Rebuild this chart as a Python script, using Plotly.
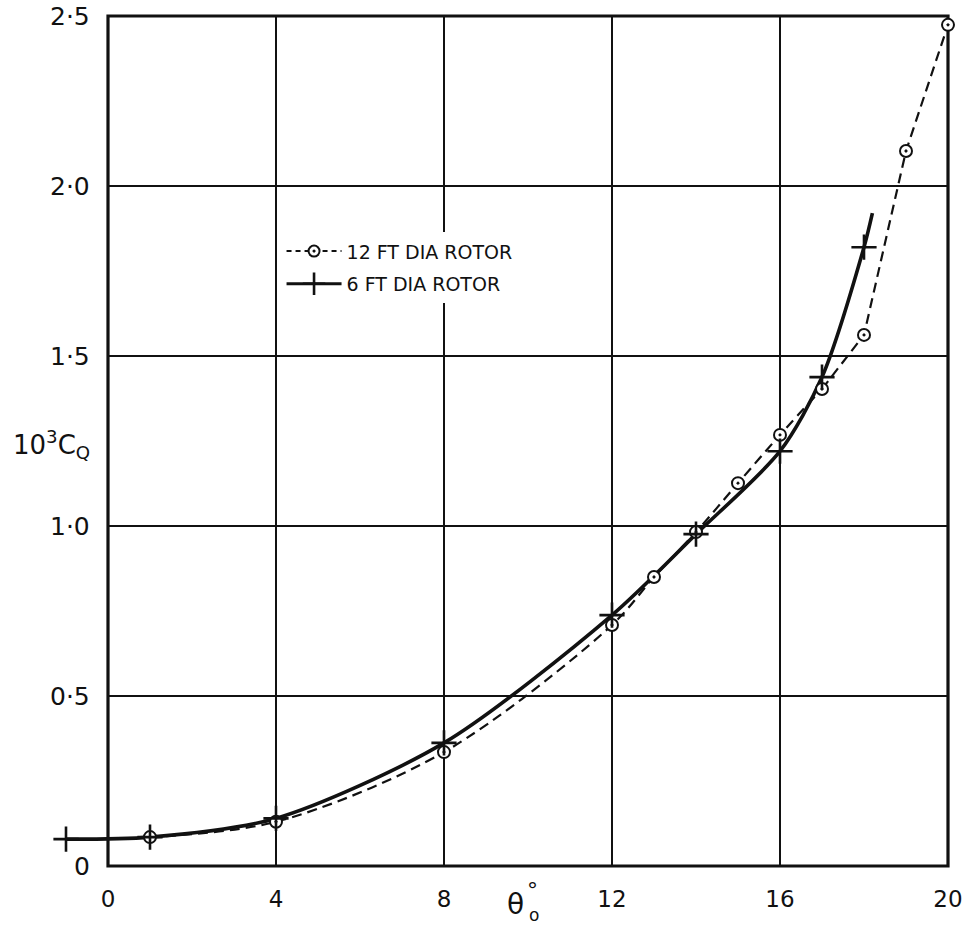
import plotly.graph_objects as go

# ---- data ----
x_ticks = [0, 4, 8, 12, 16, 20]
x_tick_text = ["0", "4", "8", "12", "16", "20"]
y_ticks = [0, 0.5, 1.0, 1.5, 2.0, 2.5]
y_tick_text = ["0", "0·5", "1·0", "1·5", "2·0", "2·5"]

theta_12 = [1, 4, 8, 12, 13, 14, 15, 16, 17, 18, 19, 20]
cq_12 = [0.085, 0.13, 0.335, 0.709, 0.85, 0.982, 1.126, 1.268, 1.403, 1.562, 2.103, 2.474]

theta_6 = [-1, 1, 4, 8, 12, 14, 16, 17, 18]
cq_6 = [0.079, 0.085, 0.14, 0.362, 0.738, 0.976, 1.22, 1.438, 1.82]
theta_6_end = [18.2]
cq_6_end = [1.92]

name_12 = "12 FT DIA ROTOR"
name_6 = "6 FT DIA ROTOR"

FONT = "DejaVu Sans"
BLACK = "#111111"

fig = go.Figure()

# 12 ft dashed curve: smooth part then straight segments
k = theta_12.index(17)
fig.add_trace(go.Scatter(x=theta_12[:k + 1], y=cq_12[:k + 1], mode="lines",
                         line=dict(color=BLACK, width=2.2, dash="10px,6px", shape="spline", smoothing=0.9),
                         showlegend=False, hoverinfo="skip"))
fig.add_trace(go.Scatter(x=theta_12[k:], y=cq_12[k:], mode="lines",
                         line=dict(color=BLACK, width=2.2, dash="10px,6px"),
                         showlegend=False, hoverinfo="skip"))

# 6 ft solid curve
fig.add_trace(go.Scatter(x=theta_6 + theta_6_end, y=cq_6 + cq_6_end, mode="lines",
                         line=dict(color=BLACK, width=3.6, shape="spline", smoothing=0.8),
                         showlegend=False, hoverinfo="skip"))

# markers
fig.add_trace(go.Scatter(x=theta_12, y=cq_12, mode="markers", cliponaxis=False,
                         marker=dict(symbol="circle-dot", size=12, color="white",
                                     line=dict(color=BLACK, width=2)),
                         showlegend=False))
fig.add_trace(go.Scatter(x=theta_6, y=cq_6, mode="markers", cliponaxis=False,
                         marker=dict(symbol="cross-thin", size=18,
                                     line=dict(color=BLACK, width=2.6)),
                         showlegend=False))

# legend entries
fig.add_trace(go.Scatter(x=[None], y=[None], mode="lines+markers", name=name_12, legendgroup="a",
                         line=dict(color=BLACK, width=2, dash="5px,4px"),
                         marker=dict(symbol="circle-dot", size=11, color="white",
                                     line=dict(color=BLACK, width=2))))
fig.add_trace(go.Scatter(x=[None], y=[None], mode="lines+markers", name=name_6, legendgroup="b",
                         line=dict(color=BLACK, width=3),
                         marker=dict(symbol="cross-thin", size=16, line=dict(color=BLACK, width=2.6))))

shapes = []
# gridlines
for xv in x_ticks[1:-1]:
    shapes.append(dict(type="line", xref="x", yref="y", x0=xv, x1=xv, y0=0, y1=2.5,
                       line=dict(color=BLACK, width=2), layer="below"))
for yv in y_ticks[1:-1]:
    shapes.append(dict(type="line", xref="x", yref="y", x0=0, x1=20, y0=yv, y1=yv,
                       line=dict(color=BLACK, width=2), layer="below"))
# frame
shapes.append(dict(type="rect", xref="x", yref="y", x0=0, x1=20, y0=0, y1=2.5,
                   line=dict(color=BLACK, width=3.2), layer="below"))

annotations = []
for yv, t in zip(y_ticks, y_tick_text):
    annotations.append(dict(x=0, y=yv, xref="x", yref="y", text=t, showarrow=False,
                            xanchor="right", yanchor="middle", xshift=-16,
                            font=dict(family=FONT, size=25, color=BLACK)))
annotations.append(dict(x=-1.35, y=1.24, xref="x", yref="y",
                        text="10<sup>3</sup>C<sub>Q</sub>", showarrow=False,
                        xanchor="center", yanchor="middle",
                        font=dict(family=FONT, size=26, color=BLACK)))
annotations.append(dict(x=9.7, y=-0.024, xref="x", yref="paper", text="θ", showarrow=False,
                        xanchor="center", yanchor="middle",
                        font=dict(family=FONT, size=28, color=BLACK)))
annotations.append(dict(x=10.1, y=-0.008, xref="x", yref="paper", text="°", showarrow=False,
                        xanchor="center", yanchor="middle",
                        font=dict(family=FONT, size=22, color=BLACK)))
annotations.append(dict(x=10.15, y=-0.037, xref="x", yref="paper", text="o", showarrow=False,
                        xanchor="center", yanchor="middle",
                        font=dict(family=FONT, size=17, color=BLACK)))

fig.update_layout(
    width=970, height=927,
    margin=dict(l=45, r=1, t=6, b=44),
    paper_bgcolor="white", plot_bgcolor="white",
    xaxis=dict(range=[-1.5, 20.5], showgrid=False, zeroline=False, showline=False,
               tickvals=x_ticks, ticktext=x_tick_text, ticks="",
               tickfont=dict(family=FONT, size=23, color=BLACK)),
    yaxis=dict(range=[-0.05, 2.5294], showgrid=False, zeroline=False, showline=False,
               showticklabels=False, ticks=""),
    showlegend=True,
    legend=dict(x=0.256, y=0.742, xanchor="left", yanchor="top",
                bgcolor="white", borderwidth=0, itemwidth=55,
                traceorder="grouped", tracegroupgap=5,
                font=dict(family=FONT, size=19, color=BLACK)),
    shapes=shapes,
    annotations=annotations,
)

fig.write_html("out.html")
